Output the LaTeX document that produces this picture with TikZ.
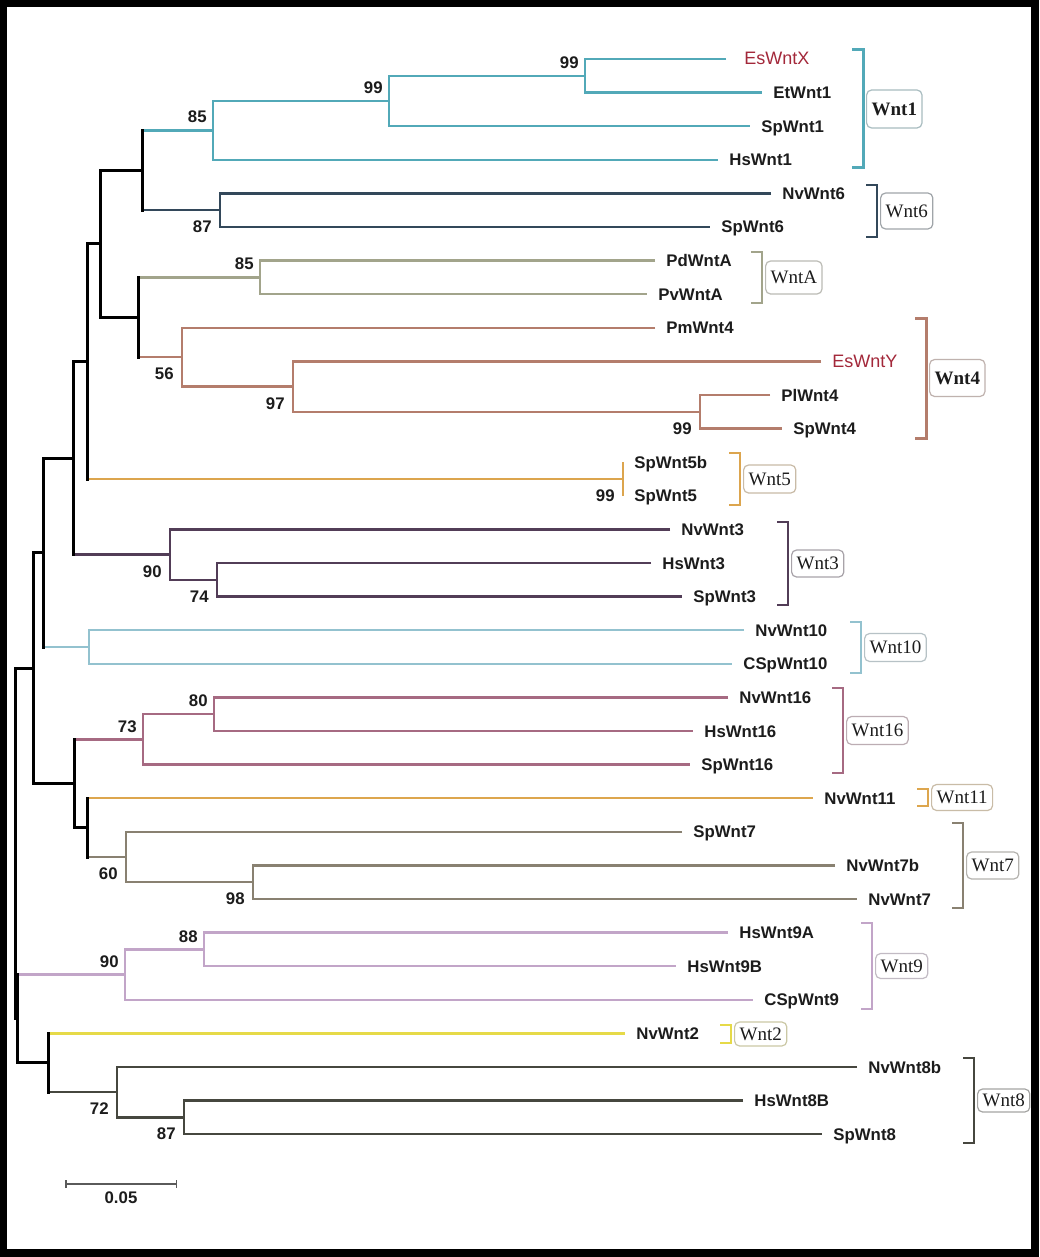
\documentclass[tikz,border=0pt]{standalone}
\usepackage{fontspec}
\setmainfont{Liberation Serif}
\setsansfont{Liberation Sans}
\usepackage{tikz}
\usetikzlibrary{positioning,arrows.meta}
\definecolor{ink}{HTML}{1C1C1C}
\definecolor{esred}{HTML}{A3283A}
\definecolor{barc}{HTML}{5A5A5A}
\definecolor{Wnt1}{HTML}{52A9B8}
\definecolor{Wnt6}{HTML}{33485A}
\definecolor{WntA}{HTML}{A2A48B}
\definecolor{Wnt4}{HTML}{B47D6C}
\definecolor{Wnt5}{HTML}{DCA54E}
\definecolor{Wnt3}{HTML}{523D57}
\definecolor{Wnt10}{HTML}{93C2CF}
\definecolor{Wnt16}{HTML}{A66A82}
\definecolor{Wnt11}{HTML}{DDA64E}
\definecolor{Wnt7}{HTML}{898171}
\definecolor{Wnt9}{HTML}{C2A5C8}
\definecolor{Wnt2}{HTML}{E6DA48}
\definecolor{Wnt8}{HTML}{46473F}
\tikzset{
  spine/.style={draw=black, line width=1.5pt, line cap=rect},
  branch/.style={line width=1.15pt, line join=miter},
  leaflab/.style={font=\sffamily\bfseries\fontsize{8.4}{10}\selectfont, text=ink, inner xsep=5.5pt, inner ysep=0pt, text height=6pt, text depth=0pt},
  redlab/.style={leaflab, font=\sffamily\fontsize{9}{10}\selectfont, text=esred},
  redlabx/.style={redlab, xshift=3.5pt},
  boot/.style={font=\sffamily\bfseries\fontsize{8.4}{10}\selectfont, text=ink, inner sep=1pt, text height=6pt, text depth=0pt},
  cladebox/.style={font=\fontsize{9.5}{11}\selectfont, text=ink, rounded corners=2.5pt, line width=0.6pt, inner xsep=2.5pt, inner ysep=0pt, text height=6.4pt, text depth=0pt},
}
\begin{document}
\begin{tikzpicture}[x=0.5pt,y=-0.5pt]
  \fill[black] (0,0) rectangle (1039,1257);
  \fill[white] (7,7) rectangle (1031,1249);
  \useasboundingbox (0,0) rectangle (1039,1257);

  \foreach \nm/\tx/\ls [count=\i from 0] in {
    EsWntX/726/redlabx, EtWnt1/762/leaflab, SpWnt1/750/leaflab, HsWnt1/718/leaflab,
    NvWnt6/771/leaflab, SpWnt6/710/leaflab, PdWntA/655/leaflab, PvWntA/647/leaflab,
    PmWnt4/655/leaflab, EsWntY/821/redlab, PlWnt4/770/leaflab, SpWnt4/782/leaflab,
    SpWnt5b/623/leaflab, SpWnt5/623/leaflab, NvWnt3/670/leaflab, HsWnt3/651/leaflab,
    SpWnt3/682/leaflab, NvWnt10/744/leaflab, CSpWnt10/732/leaflab, NvWnt16/728/leaflab,
    HsWnt16/693/leaflab, SpWnt16/690/leaflab, NvWnt11/813/leaflab, SpWnt7/682/leaflab,
    NvWnt7b/835/leaflab, NvWnt7/857/leaflab, HsWnt9A/728/leaflab, HsWnt9B/676/leaflab,
    CSpWnt9/753/leaflab, NvWnt2/625/leaflab, NvWnt8b/857/leaflab, HsWnt8B/743/leaflab,
    SpWnt8/822/leaflab}{
    \coordinate (t\nm) at (\tx,{59+33.6*\i});
    \node[\ls, right=0pt of t\nm] (\nm) {\nm};
  }

  \coordinate (n99a) at (585,75.8);
  \coordinate (n99b) at (389,101);
  \coordinate (n85a) at (213,130.4);
  \coordinate (n87a) at (220,210.2);
  \coordinate (b1) at (142,170.3);
  \coordinate (n85b) at (260,277.4);
  \coordinate (n99c) at (700,411.8);
  \coordinate (n97) at (293,386.6);
  \coordinate (n56) at (182,357.2);
  \coordinate (b2) at (138,317.3);
  \coordinate (b3) at (100,243.8);
  \coordinate (n99d) at (623,479);
  \coordinate (b4) at (87,361.4);
  \coordinate (n74) at (217,579.8);
  \coordinate (n90a) at (170,554.6);
  \coordinate (b5) at (73,458);
  \coordinate (n10) at (89,647);
  \coordinate (b6) at (43,552.5);
  \coordinate (n80) at (214,714.2);
  \coordinate (n73) at (143,739.4);
  \coordinate (n98) at (253,882.2);
  \coordinate (n60) at (126,857);
  \coordinate (b7) at (87,827.6);
  \coordinate (b8) at (74,783.5);
  \coordinate (b9) at (33,668);
  \coordinate (n88) at (204,949.4);
  \coordinate (n90b) at (125,974.6);
  \coordinate (n87b) at (184,1117.4);
  \coordinate (n72) at (117,1092.2);
  \coordinate (b10) at (48,1062.8);
  \coordinate (b11) at (17,1018.7);
  \coordinate (root) at (15,843.4);

  \draw[branch,Wnt1] (tEsWntX) -| (n99a) |- (tEtWnt1);
  \draw[branch,Wnt1] (n99a) -| (n99b) |- (tSpWnt1);
  \draw[branch,Wnt1] (n99b) -| (n85a) |- (tHsWnt1);
  \draw[branch,Wnt1] (b1 |- n85a) -- (n85a);
  \draw[branch,Wnt6] (tNvWnt6) -| (n87a) |- (tSpWnt6);
  \draw[branch,Wnt6] (b1 |- n87a) -- (n87a);
  \draw[branch,WntA] (tPdWntA) -| (n85b) |- (tPvWntA);
  \draw[branch,WntA] (b2 |- n85b) -- (n85b);
  \draw[branch,Wnt4] (tPlWnt4) -| (n99c) |- (tSpWnt4);
  \draw[branch,Wnt4] (tEsWntY) -| (n97) |- (n99c);
  \draw[branch,Wnt4] (tPmWnt4) -| (n56) |- (n97);
  \draw[branch,Wnt4] (b2 |- n56) -- (n56);
  \draw[branch,Wnt5] (tSpWnt5b) -- (tSpWnt5);
  \draw[branch,Wnt5] (b4 |- n99d) -- (n99d);
  \draw[branch,Wnt3] (tHsWnt3) -| (n74) |- (tSpWnt3);
  \draw[branch,Wnt3] (tNvWnt3) -| (n90a) |- (n74);
  \draw[branch,Wnt3] (b5 |- n90a) -- (n90a);
  \draw[branch,Wnt10] (tNvWnt10) -| (n10) |- (tCSpWnt10);
  \draw[branch,Wnt10] (b6 |- n10) -- (n10);
  \draw[branch,Wnt16] (tNvWnt16) -| (n80) |- (tHsWnt16);
  \draw[branch,Wnt16] (n80) -| (n73) |- (tSpWnt16);
  \draw[branch,Wnt16] (b8 |- n73) -- (n73);
  \draw[branch,Wnt11] (b7 |- tNvWnt11) -- (tNvWnt11);
  \draw[branch,Wnt7] (tNvWnt7b) -| (n98) |- (tNvWnt7);
  \draw[branch,Wnt7] (tSpWnt7) -| (n60) |- (n98);
  \draw[branch,Wnt7] (b7 |- n60) -- (n60);
  \draw[branch,Wnt9] (tHsWnt9A) -| (n88) |- (tHsWnt9B);
  \draw[branch,Wnt9] (n88) -| (n90b) |- (tCSpWnt9);
  \draw[branch,Wnt9] (b11 |- n90b) -- (n90b);
  \draw[branch,Wnt2] (b10 |- tNvWnt2) -- (tNvWnt2);
  \draw[branch,Wnt8] (tHsWnt8B) -| (n87b) |- (tSpWnt8);
  \draw[branch,Wnt8] (tNvWnt8b) -| (n72) |- (n87b);
  \draw[branch,Wnt8] (b10 |- n72) -- (n72);

  \draw[spine] (b1 |- n85a) -- (b1 |- n87a);
  \draw[spine] (b2 |- n85b) -- (b2 |- n56);
  \draw[spine] (b1) -| (b3) |- (b2);
  \draw[spine] (b3) -| (b4 |- n99d);
  \draw[spine] (b4) -| (b5 |- n90a);
  \draw[spine] (b5) -| (b6 |- n10);
  \draw[spine] (b7 |- tNvWnt11) -- (b7 |- n60);
  \draw[spine] (b8 |- n73) |- (b7);
  \draw[spine] (b6) -| (b9) |- (b8);
  \draw[spine] (b10 |- tNvWnt2) -- (b10 |- n72);
  \draw[spine] (b11 |- n90b) |- (b10);
  \draw[spine] (b9) -| (root) |- (b11);

  \node[boot, above left=2.5pt and 2pt of n99a] (l99a) {99};
  \node[boot, above left=2.5pt and 2pt of n99b] (l99b) {99};
  \node[boot, above left=2.5pt and 2pt of n85a] (l85a) {85};
  \node[boot, below left=4pt and 3pt of n87a] (l87a) {87};
  \node[boot, above left=2.5pt and 2pt of n85b] (l85b) {85};
  \node[boot, below left=4pt and 3pt of n56] (l56) {56};
  \node[boot, below left=4pt and 3pt of n97] (l97) {97};
  \node[boot, below left=4pt and 3pt of n99c] (l99c) {99};
  \node[boot, below left=4pt and 3pt of n99d] (l99d) {99};
  \node[boot, below left=4pt and 3pt of n90a] (l90a) {90};
  \node[boot, below left=4pt and 3pt of n74] (l74) {74};
  \node[boot, above left=2.5pt and 2pt of n80] (l80) {80};
  \node[boot, above left=2.5pt and 2pt of n73] (l73) {73};
  \node[boot, below left=4pt and 3pt of n60] (l60) {60};
  \node[boot, below left=4pt and 3pt of n98] (l98) {98};
  \node[boot, above left=2.5pt and 2pt of n88] (l88) {88};
  \node[boot, above left=2.5pt and 2pt of n90b] (l90b) {90};
  \node[boot, below left=4pt and 3pt of n72] (l72) {72};
  \node[boot, below left=4pt and 3pt of n87b] (l87b) {87};

  \foreach \c/\bx/\ya/\yb/\lw/\h/\ft in {
    Wnt1/863/50/168/1.5/19/\bfseries, Wnt6/877/185/237/1.0/18/\mdseries,
    WntA/762/252/303/0.75/16.5/\mdseries, Wnt4/926/318/438/1.5/18.5/\bfseries,
    Wnt5/740/453/505/1.0/14/\mdseries, Wnt3/788/522/605/1.0/13.5/\mdseries,
    Wnt10/861/622/673/0.75/14/\mdseries, Wnt16/843/688/773/0.75/14/\mdseries,
    Wnt11/928/789/806/0.75/13/\mdseries, Wnt7/963/823/908/1.0/13.5/\mdseries,
    Wnt9/872/923/1009/0.75/12.5/\mdseries, Wnt2/731/1025/1043/1.3/12/\mdseries,
    Wnt8/974/1058/1143/1.0/11.5/\mdseries}{
    \draw[\c, line width=\lw pt] (\bx-11,\ya) -| (\bx,\yb) -- (\bx-11,\yb);
    \coordinate (m\c) at (\bx,{(\ya+\yb)/2});
    \node[cladebox, draw=\c!40!gray!60, minimum height=\h pt, right=1.5pt of m\c] (c\c) {\ft\c};
  }

  \coordinate (sbL) at (65,1184);
  \coordinate (sbR) at (177,1184);
  \coordinate (sbM) at (121,1184);
  \draw[barc, line width=0.75pt, {Bar[width=4pt]}-{Bar[width=4pt]}] (sbL) -- (sbR);
  \node[boot, below=2.5pt of sbM] (sbT) {0.05};
\end{tikzpicture}
\end{document}
